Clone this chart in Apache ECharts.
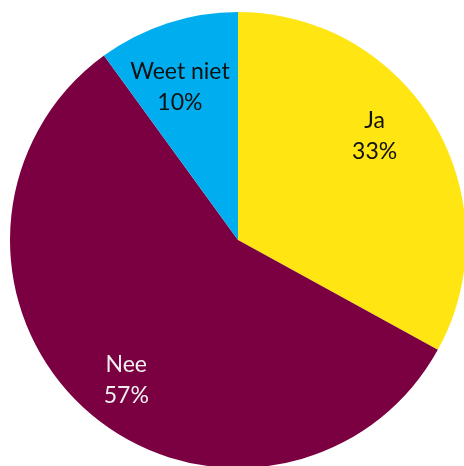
<!DOCTYPE html>
<html><head><meta charset="utf-8">
<script src="https://cdn.jsdelivr.net/npm/echarts@6/dist/echarts.min.js"></script>
<style>html,body{margin:0;padding:0;background:#fff}#c{width:464px;height:466px}</style>
</head><body><div id="c"></div>
<script>
const categories = ['Ja', 'Nee', 'Weet niet'];
const values = [33, 57, 10];
const colors = ['#FFE512', '#7B0041', '#00AEEF'];
const labelColors = ['#111111', '#F0F0F0', '#111111'];
const labelOffsets = [[-14, -15], [4, 9], [-4, 14]];

const chart = echarts.init(document.getElementById('c'), null, {renderer: 'canvas'});
const base = categories.map((c, i) => ({name: c, value: values[i], itemStyle: {color: colors[i]}}));
const lbl = categories.map((c, i) => ({name: c, value: values[i],
  itemStyle: {color: 'rgba(0,0,0,0)'},
  label: {color: labelColors[i], offset: labelOffsets[i]}}));
chart.setOption({
  animation: false,
  series: [
    {type: 'pie', center: [238, 240], radius: [0, 228], startAngle: 90, clockwise: true,
     data: base, label: {show: false}, labelLine: {show: false}, silent: true},
    {type: 'pie', center: [238, 240], radius: [116, 228], startAngle: 90, clockwise: true,
     data: lbl, silent: true, labelLine: {show: false},
     label: {show: true, position: 'inside', fontFamily: 'Lato', fontSize: 23, lineHeight: 31,
       formatter: p => p.name + '\n' + p.value + '%'}}
  ]
});
</script></body></html>
